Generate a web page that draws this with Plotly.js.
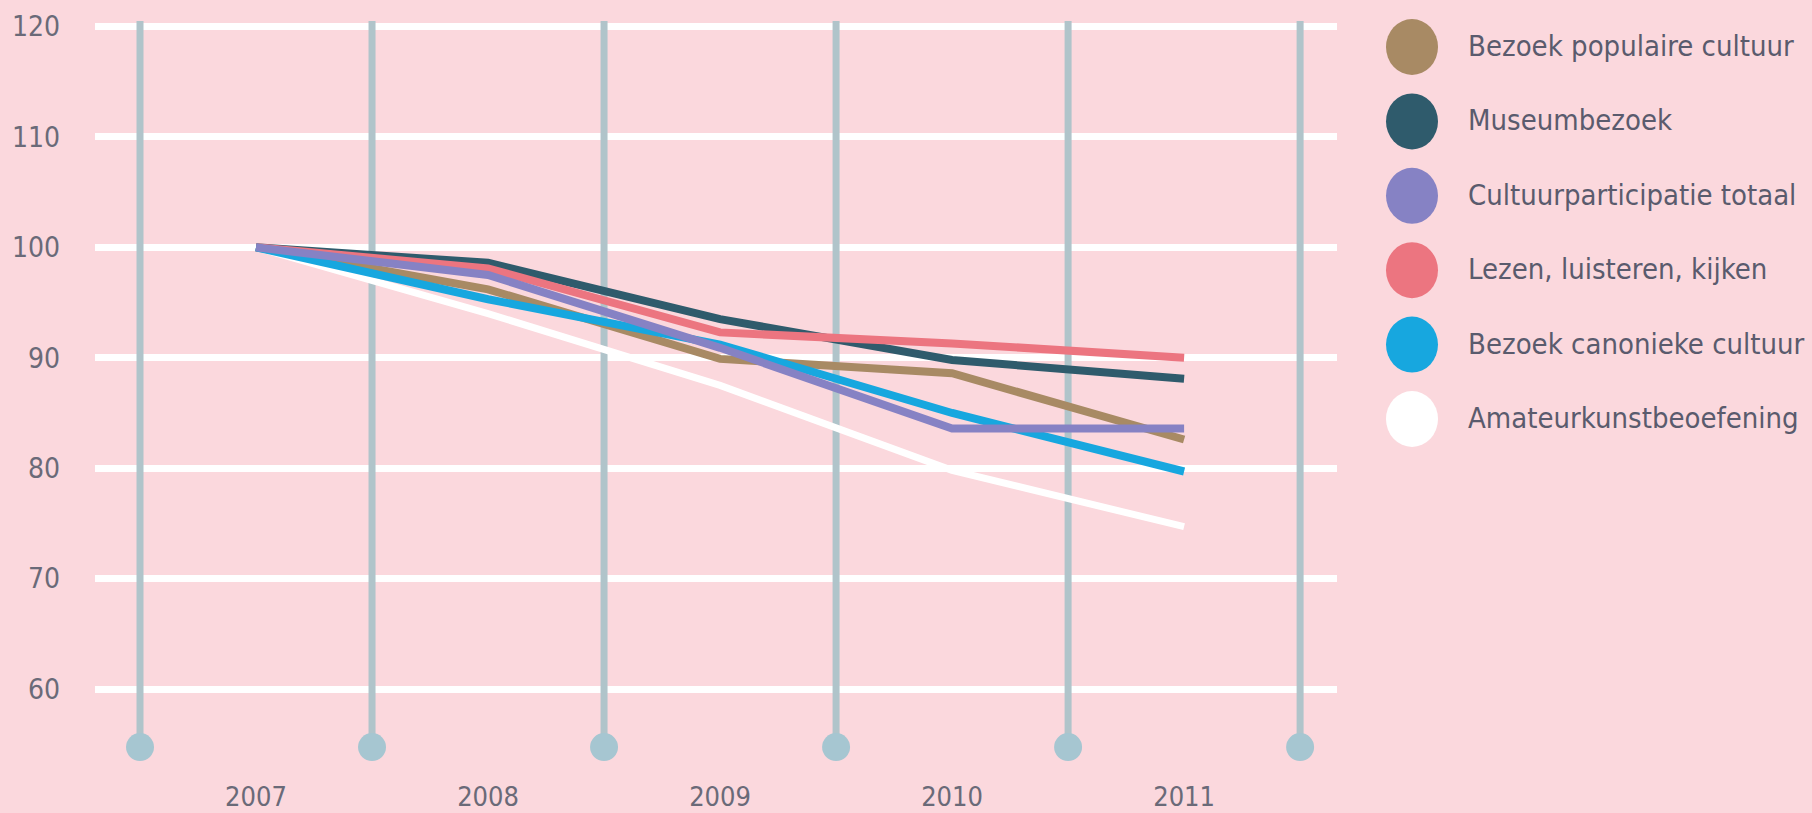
<!DOCTYPE html>
<html>
<head>
<meta charset="utf-8">
<script src="https://cdn.plot.ly/plotly-3.0.1.min.js"></script>
<style>
  html, body { margin: 0; padding: 0; background: #fbd8dd; }
  #chart { width: 1812px; height: 813px; }
</style>
</head>
<body>
<div id="chart"></div>
<script>
// ---- data (index, 2007 = 100) ----
const years = [2007, 2008, 2009, 2010, 2011];
const yearLabels = ["2007", "2008", "2009", "2010", "2011"];
const yTicks = [60, 70, 80, 90, 100, 110, 120];

const seriesNames = [
  "Bezoek populaire cultuur",
  "Museumbezoek",
  "Cultuurparticipatie totaal",
  "Lezen, luisteren, kijken",
  "Bezoek canonieke cultuur",
  "Amateurkunstbeoefening"
];
const populaireCultuur = [100, 96.2, 89.9, 88.6, 82.6];
const museumbezoek     = [100, 98.6, 93.5, 89.8, 88.1];
const totaal           = [100, 97.5, 90.9, 83.6, 83.6];
const lezenLuisteren   = [100, 98.1, 92.3, 91.3, 90.0];
const canoniekeCultuur = [100, 95.3, 91.2, 85.0, 79.7];
const amateurkunst     = [100, 94.0, 87.5, 79.8, 74.7];

const seriesValues = [populaireCultuur, museumbezoek, totaal, lezenLuisteren, canoniekeCultuur, amateurkunst];
const seriesColors = ["#a88a64", "#2f5b6c", "#8682c4", "#ec7580", "#17a7df", "#ffffff"];
// drawing order (bottom -> top)
const drawOrder = [5, 0, 1, 3, 4, 2];

const FONT = "'Liberation Sans Narrow', 'Arial Narrow', 'DejaVu Sans Condensed', sans-serif";
const BG = "#fbd8dd";

const traces = drawOrder.map(i => ({
  type: "scatter",
  mode: "lines",
  name: seriesNames[i],
  x: years,
  y: seriesValues[i],
  line: { color: seriesColors[i], width: i === 5 ? 7 : 8, shape: "linear" },
  hoverinfo: "x+y+name",
  showlegend: false
}));

// decorative vertical separators with round feet
const yBottom = 54.74, yTop = 120.5;
const bounds = years.map(y => y - 0.5).concat([years[years.length - 1] + 0.5]);
const shapes = [];
bounds.forEach(b => {
  shapes.push({
    type: "line", xref: "x", yref: "y", x0: b, x1: b, y0: yBottom, y1: yTop,
    line: { color: "#b0c4ca", width: 7 }, layer: "between"
  });
  shapes.push({
    type: "circle", xref: "x", yref: "y", xsizemode: "pixel", ysizemode: "pixel",
    xanchor: b, yanchor: yBottom, x0: -14, x1: 14, y0: -14, y1: 14,
    fillcolor: "#a6c6d1", line: { width: 0 }, layer: "between"
  });
});

// custom legend (big dots + labels)
const plotL = 95, plotW = 1242, plotT = 21, plotH = 742;
const pxToPaperX = px => (px - plotL) / plotW;
const pxToPaperY = py => (plotT + plotH - py) / plotH;
const annotations = [];
seriesNames.forEach((name, i) => {
  const cy = 47 + i * 74.4;
  shapes.push({
    type: "circle", xref: "paper", yref: "paper", xsizemode: "pixel", ysizemode: "pixel",
    xanchor: pxToPaperX(1412), yanchor: pxToPaperY(cy), x0: -26, x1: 26, y0: -28, y1: 28,
    fillcolor: seriesColors[i], line: { width: 0 }, layer: "above"
  });
  annotations.push({
    xref: "paper", yref: "paper", x: pxToPaperX(1466), y: pxToPaperY(cy - 1),
    xanchor: "left", yanchor: "middle", showarrow: false, text: name,
    font: { family: FONT, size: 29, color: "#5a5b6d" }
  });
});

const layout = {
  width: 1812, height: 813,
  paper_bgcolor: BG, plot_bgcolor: BG,
  margin: { l: plotL, r: 1812 - plotL - plotW, t: plotT, b: 813 - plotT - plotH, pad: 0 },
  showlegend: false,
  font: { family: FONT, size: 28, color: "#6a6a78" },
  xaxis: {
    range: [2006.306, 2011.659],
    tickvals: years, ticktext: yearLabels,
    showgrid: false, zeroline: false, showline: false, ticks: "",
    ticklabelstandoff: 15,
    tickfont: { family: FONT, size: 27, color: "#6a6a78" },
    fixedrange: true
  },
  yaxis: {
    range: [53.3, 120.5],
    tickvals: yTicks, ticktext: yTicks.map(String),
    showgrid: true, gridcolor: "#ffffff", gridwidth: 7,
    zeroline: false, showline: false, ticks: "",
    ticklabelstandoff: 34,
    tickfont: { family: FONT, size: 28, color: "#6a6a78" },
    fixedrange: true
  },
  shapes: shapes,
  annotations: annotations
};

Plotly.newPlot("chart", traces, layout, { displayModeBar: false, staticPlot: true });
</script>
</body>
</html>
